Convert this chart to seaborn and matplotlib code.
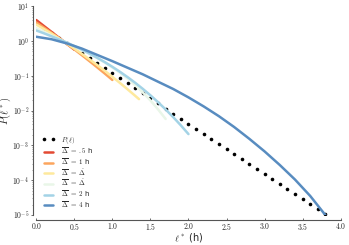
import numpy as np
import pandas as pd
import matplotlib
matplotlib.use("Agg")
import matplotlib.pyplot as plt
import matplotlib.ticker as mticker
import seaborn as sns

# ---- data ----
ell = [0.0, 0.1, 0.2, 0.3, 0.4, 0.5, 0.6, 0.7, 0.8, 0.9, 1.0, 1.1, 1.2, 1.3,
       1.4, 1.5, 1.6, 1.7, 1.8, 1.9, 2.0, 2.1, 2.2, 2.3, 2.4, 2.5, 2.6, 2.7,
       2.8, 2.9, 3.0, 3.1, 3.2, 3.3, 3.4, 3.5, 3.6, 3.7, 3.8]
p_ell = [3.33, 2.39, 1.71, 1.23, 0.879, 0.630, 0.451, 0.323, 0.232, 0.166,
         0.119, 0.0852, 0.0611, 0.0437, 0.0314, 0.0225, 0.0161, 0.0115,
         0.00826, 0.00592, 0.00424, 0.00304, 0.00218, 0.00156, 0.00112,
         0.000802, 0.000575, 0.000412, 0.000295, 0.000211, 0.000151,
         0.000109, 7.77e-5, 5.57e-5, 3.99e-5, 2.86e-5, 2.05e-5, 1.47e-5, 1.05e-5]

x_05h = [0.0, 0.1, 0.2, 0.3, 0.4, 0.5]
p_05h = [3.98, 2.69, 1.82, 1.23, 0.832, 0.562]

x_1h = [0.0, 0.1, 0.2, 0.3, 0.4, 0.5, 0.6, 0.7, 0.8, 0.9, 1.0]
p_1h = [3.39, 2.42, 1.71, 1.20, 0.833, 0.572, 0.389, 0.262, 0.175, 0.116, 0.0759]

x_d1 = [0.0, 0.1, 0.2, 0.3, 0.4, 0.5, 0.6, 0.7, 0.8, 0.9, 1.0, 1.1, 1.2, 1.3, 1.35]
p_d1 = [2.95, 2.20, 1.62, 1.18, 0.847, 0.603, 0.425, 0.296, 0.204, 0.139,
        0.0933, 0.0621, 0.0409, 0.0266, 0.0214]

x_d2 = [0.0, 0.1, 0.2, 0.3, 0.4, 0.5, 0.6, 0.7, 0.8, 0.9, 1.0, 1.1, 1.2, 1.3,
        1.4, 1.5, 1.6, 1.7]
p_d2 = [2.34, 1.82, 1.43, 1.12, 0.889, 0.701, 0.549, 0.424, 0.322, 0.239,
        0.173, 0.122, 0.0823, 0.0535, 0.0332, 0.0196, 0.0109, 0.00576]

x_2h = [0.0, 0.1, 0.2, 0.3, 0.4, 0.5, 0.6, 0.7, 0.8, 0.9, 1.0, 1.1, 1.2, 1.3,
        1.4, 1.5, 1.6, 1.7, 1.8, 1.9, 2.0]
p_2h = [2.00, 1.66, 1.36, 1.11, 0.897, 0.714, 0.561, 0.434, 0.330, 0.247,
        0.181, 0.130, 0.0915, 0.0629, 0.0421, 0.0275, 0.0175, 0.0108,
        0.00648, 0.00377, 0.00212]

x_4h = [0.0, 0.2, 0.4, 0.6, 0.8, 1.0, 1.2, 1.4, 1.6, 1.8, 2.0, 2.2, 2.4, 2.6,
        2.8, 3.0, 3.2, 3.4, 3.6, 3.8]
p_4h = [1.32, 1.12, 0.851, 0.603, 0.398, 0.263, 0.170, 0.110, 0.0676, 0.0417,
        0.0240, 0.0132, 0.00692, 0.00339, 0.00155, 6.76e-4, 2.75e-4, 1.05e-4,
        3.55e-5, 1.0e-5]

curves = [
    (x_05h, p_05h, r"$\overline{\Delta}\ =\ .5$ h"),
    (x_1h, p_1h, r"$\overline{\Delta}\ =\ 1$ h"),
    (x_d1, p_d1, r"$\overline{\Delta}\ =\ \dot{\Delta}$"),
    (x_d2, p_d2, r"$\overline{\Delta}\ =\ \dot{\Delta}$"),
    (x_2h, p_2h, r"$\overline{\Delta}\ =\ 2$ h"),
    (x_4h, p_4h, r"$\overline{\Delta}\ =\ 4$ h"),
]

# ---- style ----
sns.set_style("ticks")
plt.rcParams["font.family"] = ["DejaVu Sans"]
plt.rcParams["mathtext.fontset"] = "cm"
colors = sns.color_palette("RdYlBu", 6)

fig = plt.figure(figsize=(3.49, 2.45), dpi=100)
ax = fig.add_axes([0.104, 0.122, 0.872, 0.853])

sns.lineplot(x=ell, y=p_ell, ax=ax, color="black", marker="o", markersize=2.6,
             markeredgewidth=0, linestyle="", estimator=None, label=r"$P(\ell)$")
for (xs, ps, lab), c in zip(curves, colors):
    sns.lineplot(x=xs, y=ps, ax=ax, color=c, linewidth=1.8, estimator=None,
                 label=lab)

ax.set_yscale("log")
ax.set_xlim(0, 4)
ax.set_ylim(1e-5, 10)
ax.set_xticks(np.arange(0, 4.01, 0.5))
ax.xaxis.set_major_formatter(mticker.FuncFormatter(lambda v, _: f"${v:.1f}$"))
ax.yaxis.set_major_locator(mticker.LogLocator(base=10, numticks=10))
ax.yaxis.set_major_formatter(
    mticker.FuncFormatter(lambda v, _: f"$10^{{{int(round(np.log10(v)))}}}$"))
ax.yaxis.set_minor_formatter(mticker.NullFormatter())
ax.tick_params(axis="y", labelsize=5.5, length=1.5, width=0.6, pad=1.2,
               color="#555555")
ax.tick_params(axis="x", labelsize=5.5, length=1.5, width=0.6, pad=1,
               direction="in", color="#555555")
ax.tick_params(axis="y", which="minor", length=1.0, width=0.5, color="#777777")

sns.despine(ax=ax)
ax.spines["left"].set_position(("outward", 2.5))
ax.spines["bottom"].set_position(("outward", 3.5))
for s in ["left", "bottom"]:
    ax.spines[s].set_color("#555555")
    ax.spines[s].set_linewidth(0.8)

ax.set_xlabel(r"$\ell^*$ (h)", fontsize=7, labelpad=0)
ax.xaxis.set_label_coords(0.5, -0.075)
ax.set_ylabel(r"$P(\ell^*)$", fontsize=7.5, labelpad=0)
ax.yaxis.set_label_coords(-0.076, 0.5)

leg = ax.legend(loc="lower left", bbox_to_anchor=(0.0, 0.0), frameon=False,
                fontsize=5, numpoints=2, handlelength=1.9, labelspacing=0.0,
                handletextpad=0.9, borderaxespad=0.35)

fig.savefig("out.png", dpi=100)
